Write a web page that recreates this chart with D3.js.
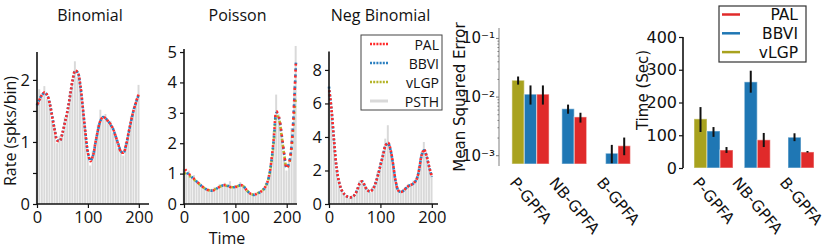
<!DOCTYPE html>
<html>
<head>
<meta charset="utf-8">
<script src="https://cdn.jsdelivr.net/npm/d3@7"></script>
<style>
  body { margin: 0; background: #fff; }
  svg { display: block; }
  .lp text { font-family: "Open Sans", "Noto Sans", sans-serif; fill: #111; }
  .rp text { font-family: "DejaVu Sans", sans-serif; fill: #111; }
</style>
</head>
<body>
<svg id="fig" width="830" height="248"></svg>
<script>
// ---- data ----
var binT = [0,5,10,15,20,25,30,35,40,45,50,55,60,65,70,75,80,85,90,95,100,105,110,115,120,125,130,135,140,145,150,155,160,165,170,175,180,185,190,195,200];
var binPAL  = [1.58,1.68,1.76,1.80,1.76,1.62,1.40,1.18,1.02,1.02,1.15,1.32,1.50,1.75,2.00,2.15,2.12,1.92,1.55,1.15,0.82,0.69,0.78,1.00,1.20,1.35,1.40,1.38,1.33,1.28,1.20,1.08,0.95,0.84,0.83,0.95,1.15,1.35,1.52,1.65,1.78];
var binBBVI = [1.59,1.69,1.76,1.79,1.75,1.62,1.41,1.19,1.03,1.02,1.14,1.32,1.51,1.75,1.99,2.14,2.12,1.91,1.55,1.16,0.83,0.70,0.78,0.99,1.20,1.35,1.40,1.38,1.33,1.27,1.20,1.08,0.96,0.85,0.83,0.95,1.15,1.34,1.52,1.65,1.77];
var binPSTH = [1.62,1.85,1.72,1.90,1.70,1.66,1.35,1.25,0.98,1.10,1.12,1.40,1.45,1.82,1.95,2.30,2.05,1.98,1.50,1.22,0.78,0.62,0.85,0.95,1.28,1.52,1.36,1.45,1.30,1.34,1.15,1.12,0.90,0.88,0.78,1.00,1.10,1.42,1.48,1.70,1.92];

var poiT = [0,5,10,15,20,25,30,35,40,45,50,55,60,65,70,75,80,85,90,95,100,105,110,115,120,125,130,135,140,145,150,155,160,165,170,175,180,185,190,195,200,205,210,215,218];
var poiPAL  = [1.20,1.08,0.98,0.90,0.82,0.74,0.66,0.58,0.52,0.47,0.45,0.44,0.47,0.52,0.57,0.61,0.62,0.60,0.56,0.55,0.56,0.59,0.62,0.60,0.50,0.40,0.33,0.30,0.32,0.36,0.41,0.48,0.62,0.88,1.40,2.20,3.05,2.85,2.30,1.65,1.17,1.38,2.05,3.55,4.75];
var poiBBVI = [1.12,1.04,0.96,0.89,0.81,0.73,0.66,0.58,0.52,0.47,0.45,0.44,0.47,0.52,0.57,0.61,0.62,0.60,0.56,0.55,0.56,0.59,0.62,0.60,0.50,0.40,0.33,0.30,0.32,0.36,0.41,0.48,0.62,0.87,1.38,2.16,3.00,2.82,2.28,1.64,1.18,1.38,2.02,3.48,4.65];
var poiVLGP = [1.02,0.98,0.93,0.87,0.80,0.72,0.65,0.58,0.52,0.47,0.45,0.45,0.48,0.52,0.57,0.60,0.61,0.59,0.56,0.55,0.56,0.59,0.61,0.59,0.50,0.40,0.34,0.31,0.33,0.37,0.42,0.49,0.62,0.86,1.34,2.10,2.92,2.78,2.25,1.62,1.20,1.36,1.92,3.05,3.55];
var poiPSTH = [1.15,1.05,1.10,0.85,0.95,0.70,0.72,0.62,0.55,0.50,0.42,0.50,0.55,0.48,0.65,0.62,0.70,0.58,0.75,0.50,0.62,0.55,0.72,0.58,0.55,0.45,0.35,0.28,0.38,0.35,0.45,0.52,0.70,0.95,1.55,2.40,3.60,2.95,2.20,1.45,1.10,1.40,2.50,3.90,5.20];

var nbT = [0,5,10,15,20,25,30,35,40,45,50,55,60,65,70,75,80,85,90,95,100,105,110,115,120,125,130,135,140,145,150,155,160,165,170,175,180,185,190,195,200];
var nbPAL  = [6.9,5.6,3.7,2.1,1.25,0.8,0.58,0.45,0.4,0.42,0.55,0.85,1.25,1.35,1.05,0.82,0.75,0.88,1.2,1.7,2.3,2.9,3.5,3.65,3.2,2.3,1.3,0.8,0.72,0.8,0.95,1.08,1.15,1.25,1.45,2.0,2.9,3.25,2.85,2.2,1.65];
var nbBBVI = [7.0,5.6,3.7,2.1,1.25,0.8,0.58,0.45,0.4,0.42,0.55,0.85,1.24,1.34,1.05,0.82,0.75,0.88,1.2,1.7,2.3,2.9,3.48,3.62,3.18,2.3,1.3,0.8,0.72,0.8,0.95,1.08,1.15,1.25,1.45,2.0,2.88,3.2,2.82,2.18,1.62];
var nbPSTH = [7.0,5.4,3.9,2.0,1.4,0.9,0.6,0.5,0.35,0.5,0.6,0.95,1.4,1.3,1.1,0.9,0.7,1.0,1.3,1.9,2.5,3.1,3.9,4.7,3.3,2.5,1.2,0.9,0.65,0.9,1.0,1.2,1.1,1.4,1.5,2.2,3.1,3.7,3.0,2.3,1.8];

var groups = ["P-GPFA", "NB-GPFA", "B-GPFA"];
// [method, mean, low, high]
var mseP  = [["vLGP",0.019,0.016,0.022],["BBVI",0.011,0.0073,0.0155],["PAL",0.011,0.0073,0.0155]];
var mseNB = [["BBVI",0.0062,0.0051,0.0073],["PAL",0.0045,0.0036,0.0053]];
var mseB  = [["BBVI",0.00108,0.00073,0.0015],["PAL",0.00145,0.0010,0.0020]];
var timeP  = [["vLGP",150,110,186],["BBVI",113,95,125],["PAL",55,46,64]];
var timeNB = [["BBVI",263,230,297],["PAL",86,64,107]];
var timeB  = [["BBVI",94,82,106],["PAL",49,47,52]];

var colors = {PAL:"#e02a2a", BBVI:"#1f77b4", vLGP:"#a8a21e", PSTH:"#d9d9d9"};
var lineColors = {PAL:"#ff2b2b", BBVI:"#2b7fc0", vLGP:"#b4b428"};

var svg = d3.select("#fig");

// ---- left three panels ----
var lp = svg.append("g").attr("class","lp");

function panel(opt){
  var x = d3.scaleLinear().domain([0, opt.xmax]).range(opt.xr);
  var y = d3.scaleLinear().domain([0, opt.ymax]).range([204, opt.ytop]);
  var g = lp.append("g");
  var w = x(5) - x(0);

  g.selectAll("rect.psth").data(opt.psth).join("rect")
    .attr("x", function(d,i){ return x(opt.t[i]) - w/2; })
    .attr("width", w - 0.6)
    .attr("y", function(d){ return y(d); })
    .attr("height", function(d){ return y(0) - y(d); })
    .attr("fill", colors.PSTH);

  var line = d3.line().x(function(d){ return x(d[0]); }).y(function(d){ return y(d[1]); })
    .curve(d3.curveCatmullRom);
  var n = opt.series.length;
  opt.series.forEach(function(s, k){
    var pts = opt.t.map(function(t,i){ return [t, s.v[i]]; });
    g.append("path").attr("d", line(pts))
      .attr("fill","none")
      .attr("stroke", lineColors[s.name])
      .attr("stroke-width", 2.6)
      .attr("stroke-dasharray", "2," + (2*(n-1)))
      .attr("stroke-dashoffset", 2*k);
  });

  var xa = g.append("g").attr("transform","translate(0,204)")
    .call(d3.axisBottom(x).tickValues([0,100,200]).tickSize(4).tickPadding(3));
  var ya = g.append("g").attr("transform","translate(" + opt.xr[0] + ",0)")
    .call(d3.axisLeft(y).tickValues(opt.yticks).tickSize(4).tickPadding(3)
      .tickFormat(function(d){ return opt.ylab.indexOf(d) >= 0 ? d : ""; }));
  [xa, ya].forEach(function(a){
    a.select(".domain").attr("stroke","#111").attr("stroke-width",1.6);
    a.selectAll(".tick line").attr("stroke","#111").attr("stroke-width",1.2);
    a.selectAll("text").style("font-size","16.5px").attr("fill","#111");
  });
  ya.select(".domain").attr("d","M0,204V" + opt.ytop);
  xa.select(".domain").attr("d","M" + opt.xr[0] + ",0H" + opt.xr[1]);

  g.append("text").attr("x", (opt.xr[0] + opt.xr[1])/2 - 3).attr("y", 21)
    .attr("text-anchor","middle").style("font-size","16px").text(opt.title);
  return {x:x, y:y, g:g};
}

panel({title:"Binomial", t:binT, psth:binPSTH, xmax:220, xr:[37,149], ymax:2.45, ytop:52,
  yticks:[0,0.5,1,1.5,2], ylab:[0,1,2],
  series:[{name:"BBVI", v:binBBVI},{name:"PAL", v:binPAL}]});
panel({title:"Poisson", t:poiT, psth:poiPSTH, xmax:220, xr:[184,297], ymax:5.1, ytop:49,
  yticks:[0,1,2,3,4,5], ylab:[0,1,2,3,4,5],
  series:[{name:"vLGP", v:poiVLGP},{name:"BBVI", v:poiBBVI},{name:"PAL", v:poiPAL}]});
panel({title:"Neg Binomial", t:nbT, psth:nbPSTH, xmax:212, xr:[329,438], ymax:9.1, ytop:51.5,
  yticks:[0,2,4,6,8], ylab:[0,2,4,6,8],
  series:[{name:"BBVI", v:nbBBVI},{name:"PAL", v:nbPAL}]});

lp.append("text").attr("transform","translate(16,131) rotate(-90)")
  .attr("text-anchor","middle").style("font-size","16px").text("Rate (spks/bin)");
lp.append("text").attr("x",227).attr("y",244)
  .attr("text-anchor","middle").style("font-size","16px").text("Time");

// legend in Neg Binomial panel
var leg1 = lp.append("g");
leg1.append("rect").attr("x",361).attr("y",35).attr("width",81).attr("height",75)
  .attr("fill","#fff").attr("stroke","#444").attr("stroke-width",1);
["PAL","BBVI","vLGP","PSTH"].forEach(function(k,i){
  var yy = 44 + i*19;
  leg1.append("line").attr("x1",370).attr("x2",388).attr("y1",yy).attr("y2",yy)
    .attr("stroke", k === "PSTH" ? colors.PSTH : lineColors[k])
    .attr("stroke-width", k === "PSTH" ? 3 : 2.6)
    .attr("stroke-dasharray", k === "PSTH" ? null : "2,1.2");
  leg1.append("text").attr("x",439).attr("y",yy+5.5).attr("text-anchor","end")
    .style("font-size","14px").text(k);
});

// ---- bar charts ----
var rp = svg.append("g").attr("class","rp");

function barChart(opt){
  var g = rp.append("g");
  var xc = d3.scalePoint().domain(groups).range(opt.xr);
  var y = opt.y;
  var bw = opt.bw;
  var bottom = y.range()[0];
  opt.data.forEach(function(rows, gi){
    var cx = xc(groups[gi]);
    var x0 = cx - rows.length*bw/2;
    g.selectAll(null).data(rows).join("rect")
      .attr("x", function(d,i){ return x0 + i*bw; })
      .attr("width", bw)
      .attr("y", function(d){ return y(d[1]); })
      .attr("height", function(d){ return bottom - y(d[1]); })
      .attr("fill", function(d){ return colors[d[0]]; })
      .attr("stroke","rgba(255,255,255,0.45)").attr("stroke-width",1.2);
    g.selectAll(null).data(rows).join("line")
      .attr("x1", function(d,i){ return x0 + i*bw + bw/2; })
      .attr("x2", function(d,i){ return x0 + i*bw + bw/2; })
      .attr("y1", function(d){ return y(d[2]); })
      .attr("y2", function(d){ return y(d[3]); })
      .attr("stroke","#111").attr("stroke-width",2);
  });
  // rotated category labels
  groups.forEach(function(c){
    var t = g.append("text").style("font-size","15.5px").attr("text-anchor","middle")
      .attr("dominant-baseline","central").text(c);
    var L = t.node().getComputedTextLength();
    var a = 50*Math.PI/180;
    var h = 12;
    var cy = 176 + (L*Math.sin(a) + h*Math.cos(a))/2;
    t.attr("transform","translate(" + xc(c) + "," + cy + ") rotate(50)");
  });
  g.append("text").attr("transform","translate(" + opt.ylx + "," + opt.yly + ") rotate(-90)")
    .attr("text-anchor","middle").style("font-size","15px").text(opt.ylabel);
  return g;
}

// MSE (log scale)
var yMse = d3.scaleLog().domain([Math.pow(10,-3.15), Math.pow(10,-0.83)]).range([164, 28]);
var gm = barChart({xr:[530.5,618], y:yMse, bw:12.4, data:[mseP,mseNB,mseB],
  ylabel:"Mean Squared Error", ylx:465, yly:97});
var minor = [];
[0.001,0.01].forEach(function(dec){ for (var m=1;m<10;m++) minor.push(dec*m); });
minor = minor.filter(function(v){ return v >= yMse.domain()[0]; });
minor.push(0.1);
var sup = {"-1":"⁻¹","-2":"⁻²","-3":"⁻³"};
var am = gm.append("g").attr("transform","translate(499,0)")
  .call(d3.axisLeft(yMse).tickValues(minor).tickSize(3).tickPadding(1)
    .tickFormat(function(d){
      var e = Math.log10(d);
      return Math.abs(e - Math.round(e)) < 1e-6 ? "10" + sup[String(Math.round(e))] : "";
    }));
am.select(".domain").attr("stroke","#b8b8b8").attr("stroke-width",1.8).attr("d","M0,166V28");
am.selectAll(".tick line").attr("stroke","#777")
  .attr("x2", function(d){ var e = Math.log10(d); return Math.abs(e-Math.round(e))<1e-6 ? -3 : -1.5; })
  .attr("stroke-width",1);
am.selectAll(".tick text").style("font-size","15px").attr("fill","#111");

// Time (linear)
var yTime = d3.scaleLinear().domain([0,400]).range([168,37]);
var gt = barChart({xr:[713.5,801], y:yTime, bw:13, data:[timeP,timeNB,timeB],
  ylabel:"Time (Sec)", ylx:648, yly:90});
var at = gt.append("g").attr("transform","translate(683,0)")
  .call(d3.axisLeft(yTime).tickValues([0,100,200,300,400]).tickSize(4).tickPadding(2));
at.select(".domain").attr("stroke","#111").attr("stroke-width",1.6).attr("d","M0,168V37");
at.selectAll(".tick line").attr("stroke","#111").attr("stroke-width",1.2);
at.selectAll(".tick text").style("font-size","16px").attr("fill","#111");

// Time legend
var leg2 = rp.append("g");
leg2.append("rect").attr("x",719).attr("y",6).attr("width",87).attr("height",56)
  .attr("fill","#fff").attr("stroke","#333").attr("stroke-width",1.2);
["PAL","BBVI","vLGP"].forEach(function(k,i){
  var yy = 14.5 + i*18.8;
  leg2.append("line").attr("x1",722).attr("x2",740).attr("y1",yy).attr("y2",yy)
    .attr("stroke", colors[k]).attr("stroke-width",2.5);
  leg2.append("text").attr("x",798).attr("y",yy+5.5).attr("text-anchor","end")
    .style("font-size","15.5px").text(k);
});
</script>
</body>
</html>
